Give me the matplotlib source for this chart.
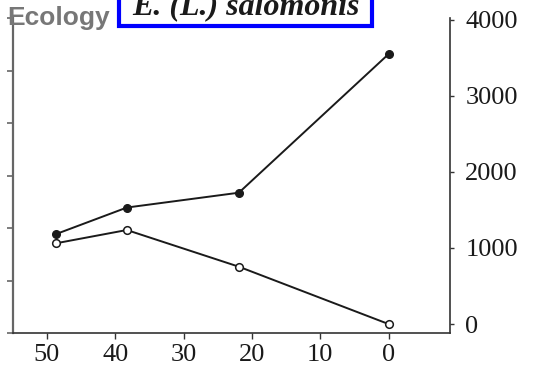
import matplotlib
matplotlib.use("Agg")
import matplotlib.pyplot as plt
from matplotlib.patches import Rectangle

# data (age in Ma, right-axis values)
ages_filled = [48.7, 38.3, 21.9, 0.0]
vals_filled = [1180, 1530, 1725, 3545]
ages_open = [48.7, 38.3, 21.9, 0.0]
vals_open = [1060, 1235, 753, 0]
xticks = [50, 40, 30, 20, 10, 0]
right_ticks = [0, 1000, 2000, 3000, 4000]
left_ticks = [0, 1, 2, 3, 4, 5, 6]

W, H = 556, 370
fig = plt.figure(figsize=(W / 100, H / 100), dpi=100)
ax = fig.add_axes([12.7 / W, 1 - 333 / H, (450 - 12.7) / W, (333 - 18) / H])
ax2 = ax.twinx()

# left axis: ticks only, no labels
ax.set_ylim(0, 6)
ax.set_yticks(left_ticks)
ax.set_yticklabels([])
ax.tick_params(axis='y', direction='out', length=4, width=1.2, color='#666666')
ax.spines['left'].set_color('#666666')
ax.spines['left'].set_linewidth(1.6)
ax.spines['top'].set_visible(False)
ax.spines['right'].set_visible(False)
ax.spines['bottom'].set_color('#333333')
ax.spines['bottom'].set_linewidth(1.2)

ax.set_xlim(55, -9)
ax.set_xticks(xticks)
ax.tick_params(axis='x', direction='out', length=4, width=1, color='#333333', pad=4)
for lab in ax.get_xticklabels():
    lab.set_fontfamily('Liberation Serif')
    lab.set_fontsize(19)
    lab.set_color('#1a1a1a')

# right axis with the data
ax2.plot(ages_filled, vals_filled, '-o', color='#1a1a1a', lw=1.4,
         markersize=5.5, markerfacecolor='#1a1a1a', markeredgecolor='#1a1a1a', zorder=3)
ax2.plot(ages_open, vals_open, '-o', color='#1a1a1a', lw=1.4,
         markersize=5.5, markerfacecolor='white', markeredgecolor='#1a1a1a',
         markeredgewidth=1.1, zorder=3)
ax2.set_ylim(-118, 4020)
ax2.set_yticks(right_ticks)
ax2.tick_params(axis='y', direction='out', length=3, width=1, color='#333333', pad=8)
for lab in ax2.get_yticklabels():
    lab.set_fontfamily('Liberation Serif')
    lab.set_fontsize(19)
    lab.set_color('#1a1a1a')
for s in ['top', 'left', 'bottom']:
    ax2.spines[s].set_visible(False)
ax2.spines['right'].set_color('#333333')
ax2.spines['right'].set_linewidth(1.2)

# header texts
fig.text(7 / W, 1 - 25 / H, 'Ecology', fontsize=19, fontweight='bold',
         color='#777777', family='Liberation Sans', ha='left', va='baseline')
fig.patches.append(Rectangle((119 / W, 1 - 26 / H), (372 - 119) / W, 40 / H,
                             transform=fig.transFigure, facecolor='white',
                             edgecolor='#0000ff', linewidth=3, zorder=5))
fig.text(132 / W, 1 - 14 / H, 'E. (L.) salomonis', fontsize=23,
         fontweight='bold', fontstyle='italic', family='Liberation Serif',
         color='#1a1a1a', ha='left', va='baseline', zorder=6)

fig.savefig('out.png', dpi=100)
